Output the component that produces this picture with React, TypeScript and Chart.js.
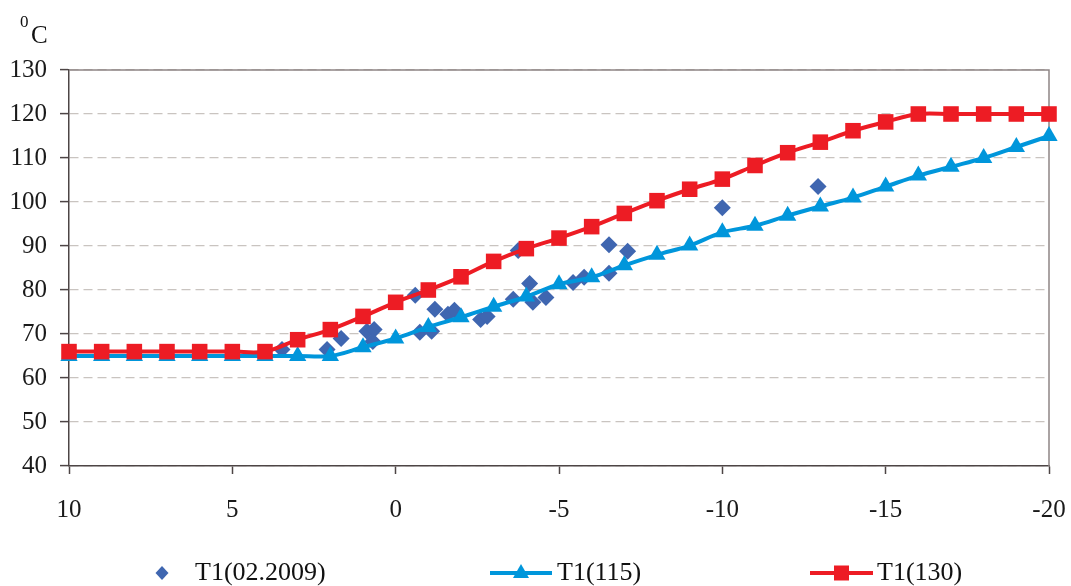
import React, { useEffect, useRef } from 'react';
import { Chart, registerables } from 'chart.js';

Chart.register(...registerables);

// Outdoor temperature (x axis, reversed)
const xValues = [10, 9, 8, 7, 6, 5, 4, 3, 2, 1, 0, -1, -2, -3, -4, -5, -6, -7, -8, -9, -10, -11, -12, -13, -14, -15, -16, -17, -18, -19, -20];

// T1(130) curve
const t1_130 = [66, 66, 66, 66, 66, 66, 66, 68.7, 71, 74, 77.2, 80, 83, 86.5, 89.4, 91.8, 94.4, 97.4, 100.3, 102.9, 105.2, 108.3, 111.2, 113.6, 116.2, 118.2, 120, 120, 120, 120, 120];

// T1(115) curve
const t1_115 = [65, 65, 65, 65, 65, 65, 65, 65, 65, 67, 69, 71.6, 73.8, 76.2, 78.5, 81.3, 82.9, 85.6, 88, 90.1, 93.1, 94.6, 96.9, 99, 101, 103.5, 106, 108, 110, 112.5, 115];

// Measured T1(02.2009)
const obsX = [3.48, 2.1, 1.67, 0.88, 0.66, 0.7, -0.6, -0.74, -1.1, -1.2, -1.6, -1.8, -2.6, -2.8, -3.6, -3.75, -4.1, -4.2, -4.6, -5.43, -5.77, -6.53, -6.53, -7.1, -10, -12.93];
const obsY = [66.5, 66.5, 69, 70.6, 71, 68.3, 78.8, 70.4, 70.6, 75.6, 74.5, 75.4, 73.3, 74, 77.9, 89, 81.5, 77.2, 78.3, 81.7, 82.9, 83.8, 90.3, 88.8, 98.7, 103.5];

const seriesLabels = ['T1(02.2009)', 'T1(115)', 'T1(130)'];
const yUnitMain = 'C';
const yUnitSup = '0';

const RED = '#ED1C24';
const BLUE = '#0096DB';
const DIAMOND = '#3F66B0';
const AXIS = '#4d4545';
const FONT = 'Liberation Serif';

const decorPlugin = {
  id: 'decor',
  beforeDatasetsDraw(chart: any) {
    const { ctx, chartArea: a } = chart;
    ctx.save();
    ctx.strokeStyle = '#8f8585';
    ctx.lineWidth = 1.5;
    ctx.beginPath();
    ctx.moveTo(a.left, a.top);
    ctx.lineTo(a.right, a.top);
    ctx.lineTo(a.right, a.bottom);
    ctx.stroke();
    ctx.restore();
  },
  afterDraw(chart: any) {
    const { ctx } = chart;
    ctx.save();
    ctx.fillStyle = '#111';
    ctx.textBaseline = 'alphabetic';
    ctx.textAlign = 'left';
    ctx.font = `17px "${FONT}"`;
    ctx.fillText(yUnitSup, 20, 27);
    ctx.font = `25px "${FONT}"`;
    ctx.fillText(yUnitMain, 31, 43);

    const ly = 573;
    ctx.font = `26px "${FONT}"`;
    // item 1: diamond
    ctx.fillStyle = DIAMOND;
    ctx.beginPath();
    ctx.moveTo(162, ly - 7);
    ctx.lineTo(168.5, ly);
    ctx.lineTo(162, ly + 7);
    ctx.lineTo(155.5, ly);
    ctx.closePath();
    ctx.fill();
    ctx.fillStyle = '#111';
    ctx.fillText(seriesLabels[0], 195, 580);
    // item 2: line + triangle
    ctx.strokeStyle = BLUE;
    ctx.lineWidth = 4;
    ctx.beginPath();
    ctx.moveTo(490, ly);
    ctx.lineTo(552, ly);
    ctx.stroke();
    ctx.fillStyle = BLUE;
    ctx.beginPath();
    ctx.moveTo(521, ly - 9);
    ctx.lineTo(529, ly + 5);
    ctx.lineTo(513, ly + 5);
    ctx.closePath();
    ctx.fill();
    ctx.fillStyle = '#111';
    ctx.fillText(seriesLabels[1], 557, 580);
    // item 3: line + square
    ctx.strokeStyle = RED;
    ctx.beginPath();
    ctx.moveTo(810, ly);
    ctx.lineTo(873, ly);
    ctx.stroke();
    ctx.fillStyle = RED;
    ctx.fillRect(834, ly - 7.5, 15, 15);
    ctx.fillStyle = '#111';
    ctx.fillText(seriesLabels[2], 877, 580);
    ctx.restore();
  },
};

export default function App() {
  const ref = useRef<HTMLCanvasElement>(null);

  useEffect(() => {
    const canvas = ref.current;
    if (!canvas) return;
    const tickFont = { family: FONT, size: 25 };
    const chart = new Chart(canvas, {
      type: 'scatter',
      data: {
        datasets: [
          {
            label: seriesLabels[0],
            data: obsX.map((x, i) => ({ x, y: obsY[i] })),
            pointStyle: 'rectRot',
            pointRadius: 8.5,
            backgroundColor: DIAMOND,
            borderColor: DIAMOND,
            borderWidth: 0,
            showLine: false,
            order: 2,
            clip: false,
          } as any,
          {
            label: seriesLabels[1],
            data: xValues.map((x, i) => ({ x, y: t1_115[i] })),
            showLine: true,
            borderColor: BLUE,
            backgroundColor: BLUE,
            borderWidth: 4,
            pointStyle: 'triangle',
            pointRadius: 10,
            pointBorderWidth: 0,
            tension: 0.35,
            order: 1,
            clip: false,
          } as any,
          {
            label: seriesLabels[2],
            data: xValues.map((x, i) => ({ x, y: t1_130[i] })),
            showLine: true,
            borderColor: RED,
            backgroundColor: RED,
            borderWidth: 4,
            pointStyle: 'rect',
            pointRadius: 11,
            pointBorderWidth: 0,
            tension: 0.35,
            order: 0,
            clip: false,
          } as any,
        ],
      },
      options: {
        animation: false,
        responsive: false,
        devicePixelRatio: 1,
        layout: { padding: { left: 0, right: 22, top: 70, bottom: 60 } },
        plugins: { legend: { display: false }, tooltip: { enabled: false } },
        scales: {
          x: {
            type: 'linear',
            reverse: true,
            min: -20,
            max: 10,
            ticks: { stepSize: 5, font: tickFont, color: '#1a1a1a', padding: 21, maxRotation: 0 },
            grid: { drawOnChartArea: false, tickLength: 8, tickColor: AXIS, tickWidth: 1.5 },
            border: { color: AXIS, width: 1.5 },
            afterFit: (s: any) => { s.height = 60; s.paddingLeft = 0; s.paddingRight = 0; },
          },
          y: {
            type: 'linear',
            min: 40,
            max: 130,
            ticks: { stepSize: 10, font: tickFont, color: '#1a1a1a', padding: 13 },
            grid: { color: '#c9c4c0', lineWidth: 1.2, tickLength: 9, tickColor: AXIS, tickWidth: 1.5, tickBorderDash: [] },
            border: { color: AXIS, width: 1.5, dash: [9, 5] },
            afterFit: (s: any) => { s.width = 69; s.paddingTop = 0; s.paddingBottom = 0; },
          },
        },
      } as any,
      plugins: [decorPlugin],
    });
    return () => chart.destroy();
  }, []);

  return (
    <div style={{ position: 'absolute', left: 0, top: 0, width: 1071, height: 586, background: '#fff' }}>
      <canvas ref={ref} width={1071} height={586} style={{ display: 'block' }} />
    </div>
  );
}
